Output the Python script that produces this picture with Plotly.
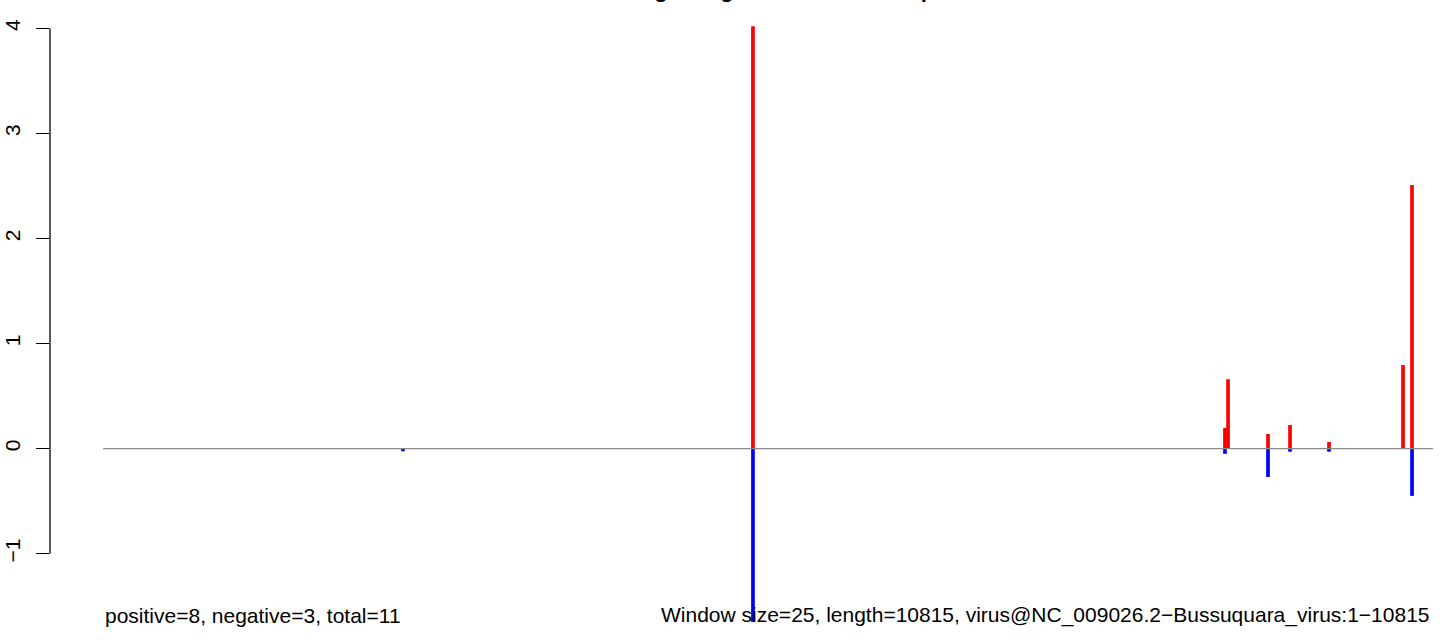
import plotly.graph_objects as go

# window start positions (nt) and log-scaled values
pos_x = [5285, 9123, 9148, 9473, 9652, 9969, 10571, 10644]
pos_y = [4.02, 0.196, 0.66, 0.139, 0.225, 0.063, 0.795, 2.51]
neg_x = [2439, 5285, 9123, 9473, 9652, 9969, 10644]
neg_y = [-0.025, -1.65, -0.05, -0.27, -0.03, -0.03, -0.45]

genome_start = 1
genome_end = 10815
y_ticks = [-1, 0, 1, 2, 3, 4]
y_tick_text = ["\u22121", "0", "1", "2", "3", "4"]

title_text = "Reading_Long reads minus and plus strands"
left_note = "positive=8, negative=3, total=11"
right_note = "Window size=25, length=10815, virus@NC_009026.2\u2212Bussuquara_virus:1\u221210815"

FONT = "Liberation Sans, Arial, Helvetica, sans-serif"

fig = go.Figure()
fig.add_trace(go.Scatter(x=[genome_start, genome_end], y=[0, 0], mode="lines",
                         line=dict(color="#8a8a8a", width=1.3), hoverinfo="skip"))
fig.add_trace(go.Bar(x=pos_x, y=pos_y, width=30, marker=dict(color="#FF0000", line=dict(width=0))))
fig.add_trace(go.Bar(x=neg_x, y=neg_y, width=30, marker=dict(color="#0000FF", line=dict(width=0))))

fig.update_layout(
    width=1444, height=644,
    margin=dict(l=50, r=0, t=0, b=0, autoexpand=False),
    paper_bgcolor="white", plot_bgcolor="white",
    showlegend=False, barmode="overlay",
    font=dict(family=FONT, size=21, color="black"),
    xaxis=dict(range=[-431, 10904], visible=False, showgrid=False, zeroline=False,
               automargin=False),
    yaxis=dict(range=[-1.86, 4.27], tickvals=y_ticks, ticktext=y_tick_text,
               tickangle=-90, ticks="outside", ticklen=13, tickwidth=1, tickcolor="black",
               showgrid=False, zeroline=False, showline=False, automargin=False,
               ticklabelstandoff=8, tickfont=dict(size=21, family=FONT)),
)
fig.add_shape(type="line", xref="paper", yref="y", x0=0, x1=0, y0=-1, y1=4,
              line=dict(color="black", width=1.3))

fig.add_annotation(text=title_text, xref="paper", yref="paper", x=(579 - 50) / 1394, y=1,
                   xanchor="left", yanchor="bottom", yshift=-4, showarrow=False,
                   font=dict(family=FONT, size=22, color="black", weight="bold"))
fig.add_annotation(text=left_note, xref="paper", yref="paper", x=(103 - 50) / 1394, y=15 / 644,
                   xanchor="left", yanchor="bottom", showarrow=False,
                   font=dict(family=FONT, size=21, color="black"))
fig.add_annotation(text=right_note, xref="paper", yref="paper", x=(1432 - 50) / 1394, y=15 / 644,
                   xanchor="right", yanchor="bottom", showarrow=False,
                   font=dict(family=FONT, size=21, color="black"))

fig.write_html("out.html", config={"displayModeBar": False},
               post_script="document.body.style.margin='0';document.body.style.overflow='hidden';")
